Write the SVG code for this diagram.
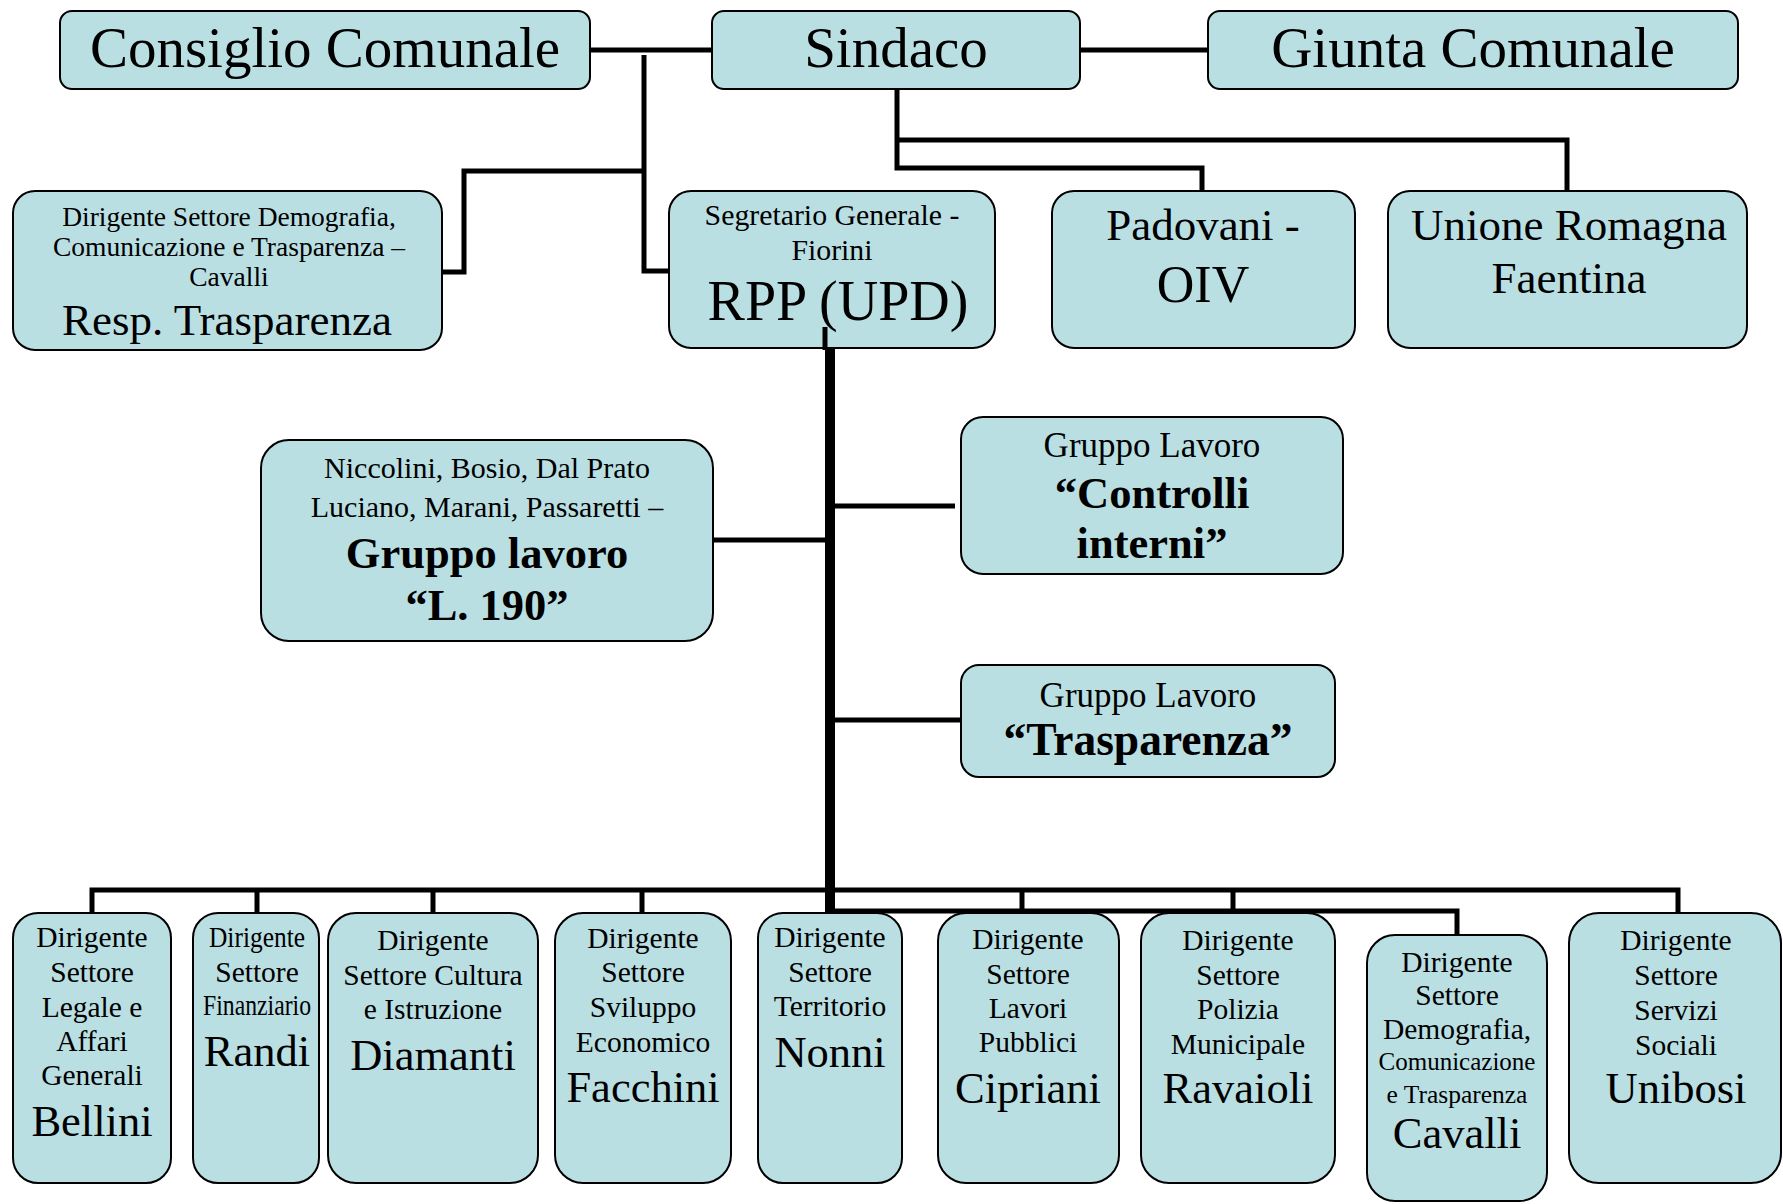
<svg xmlns="http://www.w3.org/2000/svg" width="1783" height="1204" viewBox="0 0 1783 1204">
<style>
.box{fill:#badfe3;stroke:#000;stroke-width:2}
text{font-family:"Liberation Serif","Times New Roman",serif;text-anchor:middle;fill:#000}
.t57{font-size:57px}
.s{font-size:29.5px}
.sm{font-size:27.5px}
.m{font-size:35px}
.b{font-weight:bold;font-size:44.5px}
.big{font-size:44.5px}
.c{fill:none;stroke:#000;stroke-width:5}
.thick{stroke-width:10}
</style>
<rect x="0" y="0" width="1783" height="1204" fill="#fff"/>

<g id="consiglio-comunale">
<rect class="box" x="60" y="11" width="530" height="78" rx="12"/>
<text class="t57" x="325" y="67">Consiglio Comunale</text>
</g>
<g id="sindaco">
<rect class="box" x="712" y="11" width="368" height="78" rx="12"/>
<text class="t57" x="896" y="67">Sindaco</text>
</g>
<g id="giunta-comunale">
<rect class="box" x="1208" y="11" width="530" height="78" rx="12"/>
<text class="t57" x="1473" y="67">Giunta Comunale</text>
</g>

<g id="resp-trasparenza">
<rect class="box" x="13" y="191" width="429" height="159" rx="22"/>
<text class="sm" x="229" y="226">Dirigente Settore Demografia,</text>
<text class="sm" x="229" y="256">Comunicazione e Trasparenza –</text>
<text class="sm" x="229" y="286">Cavalli</text>
<text x="227" y="335" style="font-size:45px">Resp. Trasparenza</text>
</g>
<g id="rpp">
<rect class="box" x="669" y="191" width="326" height="157" rx="22"/>
<text x="832" y="225" style="font-size:29.8px">Segretario Generale -</text>
<text x="832" y="260" style="font-size:29.8px">Fiorini</text>
<text x="838" y="320" style="font-size:56px">RPP (UPD)</text>
</g>
<g id="oiv">
<rect class="box" x="1052" y="191" width="303" height="157" rx="22"/>
<text x="1203" y="240" style="font-size:45px">Padovani -</text>
<text x="1203" y="302" style="font-size:52px">OIV</text>
</g>
<g id="unione">
<rect class="box" x="1388" y="191" width="359" height="157" rx="22"/>
<text x="1569" y="240" style="font-size:45px">Unione Romagna</text>
<text x="1569" y="293" style="font-size:45px">Faentina</text>
</g>

<g id="gruppo-l190">
<rect class="box" x="261" y="440" width="452" height="201" rx="28"/>
<text x="487" y="478" style="font-size:30px">Niccolini, Bosio, Dal Prato</text>
<text x="487" y="517" style="font-size:30px">Luciano, Marani, Passaretti –</text>
<text class="b" x="487" y="568">Gruppo lavoro</text>
<text class="b" x="487" y="620">“L. 190”</text>
</g>
<g id="gruppo-controlli">
<rect class="box" x="961" y="417" width="382" height="157" rx="22"/>
<text class="m" x="1152" y="457">Gruppo Lavoro</text>
<text class="b" x="1152" y="508">“Controlli</text>
<text class="b" x="1152" y="558">interni”</text>
</g>
<g id="gruppo-trasparenza">
<rect class="box" x="961" y="665" width="374" height="112" rx="18"/>
<text class="m" x="1148" y="707">Gruppo Lavoro</text>
<text x="1148" y="755" style="font-weight:bold;font-size:45.5px">“Trasparenza”</text>
</g>

<g id="bellini">
<rect class="box" x="13" y="913" width="158" height="270" rx="25"/>
<text class="s" x="92" y="947">Dirigente</text>
<text class="s" x="92" y="982">Settore</text>
<text class="s" x="92" y="1017">Legale e</text>
<text class="s" x="92" y="1051">Affari</text>
<text class="s" x="92" y="1085">Generali</text>
<text class="big" x="92" y="1136">Bellini</text>
</g>
<g id="randi">
<rect class="box" x="193" y="913" width="126" height="270" rx="25"/>
<text class="s" x="257" y="947" textLength="96" lengthAdjust="spacingAndGlyphs">Dirigente</text>
<text class="s" x="257" y="982">Settore</text>
<text class="s" x="257" y="1015" textLength="108" lengthAdjust="spacingAndGlyphs">Finanziario</text>
<text class="big" x="257" y="1066">Randi</text>
</g>
<g id="diamanti">
<rect class="box" x="328" y="913" width="210" height="270" rx="28"/>
<text class="s" x="433" y="950">Dirigente</text>
<text class="s" x="433" y="985">Settore Cultura</text>
<text class="s" x="433" y="1019">e Istruzione</text>
<text class="big" x="433" y="1070">Diamanti</text>
</g>
<g id="facchini">
<rect class="box" x="555" y="913" width="176" height="270" rx="28"/>
<text class="s" x="643" y="948">Dirigente</text>
<text class="s" x="643" y="982">Settore</text>
<text class="s" x="643" y="1017">Sviluppo</text>
<text class="s" x="643" y="1052">Economico</text>
<text class="big" x="643" y="1102">Facchini</text>
</g>
<g id="nonni">
<rect class="box" x="758" y="913" width="144" height="270" rx="25"/>
<text class="s" x="830" y="947">Dirigente</text>
<text class="s" x="830" y="982">Settore</text>
<text class="s" x="830" y="1016">Territorio</text>
<text class="big" x="830" y="1067">Nonni</text>
</g>
<g id="cipriani">
<rect class="box" x="938" y="913" width="181" height="270" rx="28"/>
<text class="s" x="1028" y="949">Dirigente</text>
<text class="s" x="1028" y="984">Settore</text>
<text class="s" x="1028" y="1018">Lavori</text>
<text class="s" x="1028" y="1052">Pubblici</text>
<text class="big" x="1028" y="1103">Cipriani</text>
</g>
<g id="ravaioli">
<rect class="box" x="1141" y="913" width="194" height="270" rx="28"/>
<text class="s" x="1238" y="950">Dirigente</text>
<text class="s" x="1238" y="985">Settore</text>
<text class="s" x="1238" y="1019">Polizia</text>
<text class="s" x="1238" y="1054">Municipale</text>
<text class="big" x="1238" y="1103">Ravaioli</text>
</g>
<g id="cavalli">
<rect class="box" x="1367" y="935" width="180" height="266" rx="28"/>
<text class="s" x="1457" y="972">Dirigente</text>
<text class="s" x="1457" y="1005">Settore</text>
<text class="s" x="1457" y="1039">Demografia,</text>
<text x="1457" y="1070" style="font-size:25px">Comunicazione</text>
<text x="1457" y="1103" style="font-size:25.5px">e Trasparenza</text>
<text class="big" x="1457" y="1148">Cavalli</text>
</g>
<g id="unibosi">
<rect class="box" x="1569" y="913" width="212" height="270" rx="30"/>
<text class="s" x="1676" y="950">Dirigente</text>
<text class="s" x="1676" y="985">Settore</text>
<text class="s" x="1676" y="1020">Servizi</text>
<text class="s" x="1676" y="1055">Sociali</text>
<text class="big" x="1676" y="1103">Unibosi</text>
</g>

<g id="connectors">
<path class="c" d="M590 50 H712"/>
<path class="c" d="M1080 50 H1208"/>
<path class="c" d="M644 55 V271 H669"/>
<path class="c" d="M644 171 H464 V272 H442"/>
<path class="c" d="M897 89 V168 H1202 V191"/>
<path class="c" d="M897 140 H1567 V191"/>
<path class="c" d="M825 327 V350"/>
<path class="c thick" d="M830 348 V913"/>
<path class="c" d="M713 540 H826"/>
<path class="c" d="M835 506 H955"/>
<path class="c" d="M835 720 H960"/>
<path class="c" d="M92 913 V890 H1678 V913"/>
<path class="c" d="M257 890 V913"/>
<path class="c" d="M433 890 V913"/>
<path class="c" d="M642 890 V913"/>
<path class="c" d="M1022 890 V913"/>
<path class="c" d="M1233 890 V913"/>
<path class="c" d="M835 911 H1457 V935"/>
</g>
</svg>
